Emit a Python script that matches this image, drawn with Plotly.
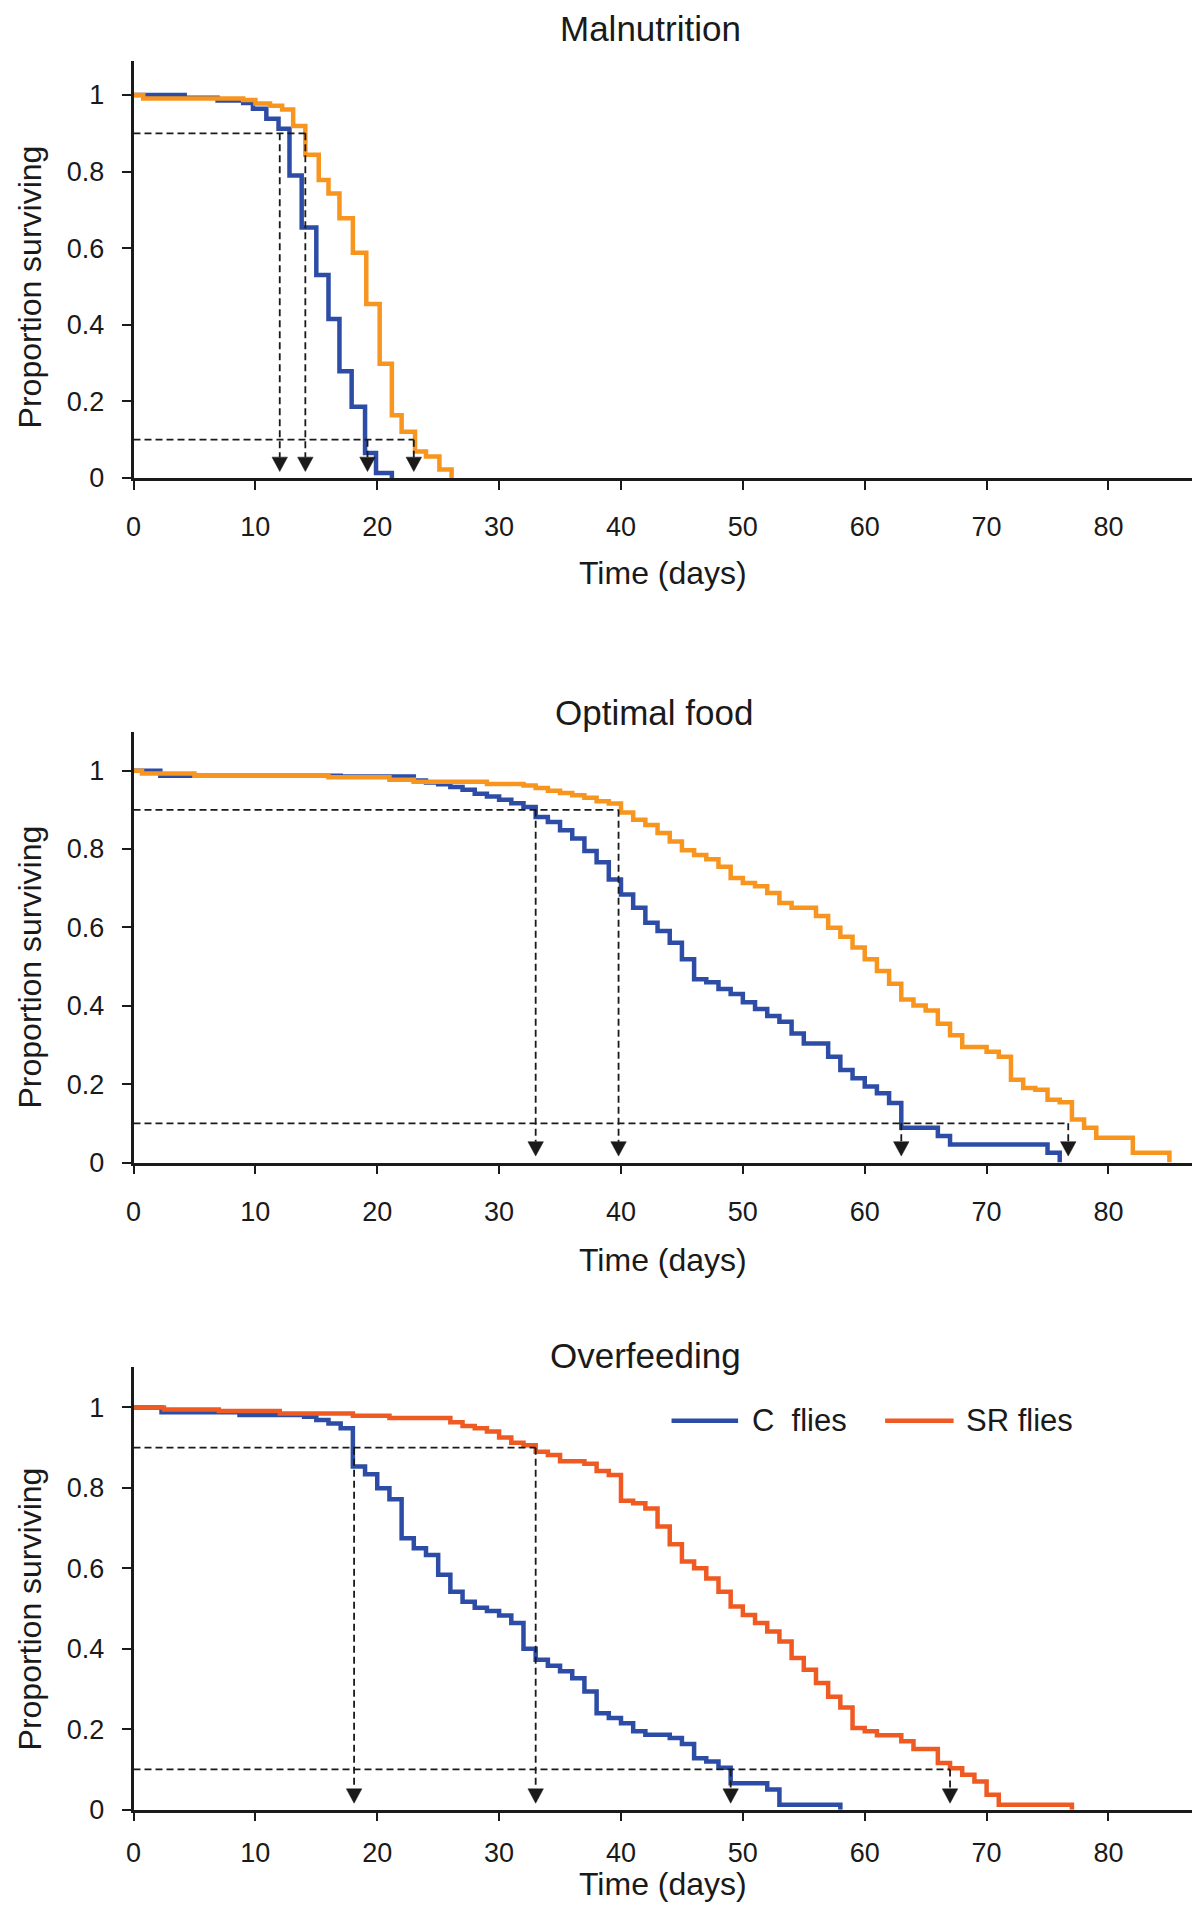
import plotly.graph_objects as go

# ---------------- data ----------------
mal_c_days = [0, 4.2, 6.9, 9, 9.8, 10.9, 11.9, 12.8, 13.8, 15, 16, 16.9, 17.9, 19, 19.9, 21.2]
mal_c_surv = [1.0, 0.993, 0.986, 0.979, 0.964, 0.938, 0.912, 0.79, 0.654, 0.53, 0.415, 0.279, 0.186, 0.065, 0.013, 0.0]
mal_sr_days = [0, 0.8, 9.0, 10.0, 11.2, 12.2, 13.1, 14.1, 15.2, 16.0, 16.9, 18.0, 19.1, 20.2, 21.2, 22.0, 23.1, 24.0, 25.1, 26.1]
mal_sr_surv = [1.0, 0.991, 0.987, 0.978, 0.972, 0.962, 0.919, 0.844, 0.778, 0.743, 0.678, 0.588, 0.454, 0.298, 0.164, 0.121, 0.069, 0.056, 0.022, 0.0]

opt_c_days = [0, 2.2, 17, 23, 24, 25, 26, 27, 28, 29, 30, 31, 32, 33, 34, 35, 36, 37, 38, 39, 40,
              41, 42, 43, 44, 45, 46, 47, 48, 49, 50, 51, 52, 53, 54, 55, 57, 58, 59, 60, 61, 62, 63,
              66, 67, 75, 76]
opt_c_surv = [1.0, 0.987, 0.985, 0.975, 0.97, 0.965, 0.958, 0.951, 0.941, 0.934, 0.926, 0.917, 0.907,
              0.882, 0.869, 0.848, 0.827, 0.795, 0.766, 0.722, 0.684, 0.65, 0.612, 0.591, 0.561, 0.519,
              0.468, 0.46, 0.443, 0.43, 0.409, 0.392, 0.374, 0.359, 0.329, 0.304, 0.27, 0.236, 0.215,
              0.194, 0.177, 0.152, 0.089, 0.068, 0.046, 0.025, 0.0]
opt_sr_days = [0, 0.7, 5, 16, 21, 23, 29, 32, 33, 34, 35, 36, 37, 38, 39, 40, 41, 42, 43, 44, 45, 46,
               47, 48, 49, 50, 51, 52, 53, 54, 56, 57, 58, 59, 60, 61, 62, 63, 64, 65, 66, 67, 68, 70,
               71, 72, 73, 74, 75, 76, 77, 78, 79, 82, 85]
opt_sr_surv = [1.0, 0.993, 0.987, 0.983, 0.977, 0.972, 0.966, 0.962, 0.956, 0.949, 0.943, 0.937, 0.931,
               0.922, 0.916, 0.893, 0.875, 0.861, 0.841, 0.819, 0.797, 0.785, 0.774, 0.755, 0.726, 0.713,
               0.705, 0.688, 0.662, 0.65, 0.629, 0.599, 0.576, 0.549, 0.519, 0.489, 0.456, 0.416, 0.401,
               0.388, 0.354, 0.325, 0.295, 0.283, 0.27, 0.211, 0.19, 0.186, 0.16, 0.154, 0.11, 0.089,
               0.063, 0.025, 0.0]

ovf_c_days = [0, 2.3, 8.7, 14, 15, 16, 17, 18, 19, 20, 21, 22, 23, 24, 25, 26, 27, 28, 29, 30, 31, 32,
              33, 34, 35, 36, 37, 38, 39, 40, 41, 42, 44, 45, 46, 47, 48, 49, 52, 53, 58]
ovf_c_surv = [1.0, 0.988, 0.981, 0.977, 0.969, 0.96, 0.948, 0.853, 0.834, 0.799, 0.772, 0.675, 0.65,
              0.633, 0.584, 0.542, 0.517, 0.502, 0.494, 0.483, 0.464, 0.4, 0.373, 0.358, 0.344, 0.327,
              0.294, 0.24, 0.228, 0.215, 0.195, 0.186, 0.178, 0.163, 0.128, 0.12, 0.104, 0.066, 0.05,
              0.012, 0.0]
ovf_sr_days = [0, 2.5, 7, 12, 18, 21, 26, 27, 28, 29, 30, 31, 32, 33, 34, 35, 37, 38, 39, 40, 41, 42,
               43, 44, 45, 46, 47, 48, 49, 50, 51, 52, 53, 54, 55, 56, 57, 58, 59, 60, 61, 63, 64, 66,
               67, 68, 69, 70, 71, 77]
ovf_sr_surv = [1.0, 0.995, 0.991, 0.985, 0.979, 0.974, 0.963, 0.954, 0.948, 0.94, 0.925, 0.912, 0.906,
               0.89, 0.882, 0.866, 0.86, 0.842, 0.832, 0.768, 0.762, 0.749, 0.704, 0.66, 0.617, 0.6,
               0.575, 0.542, 0.505, 0.484, 0.464, 0.443, 0.418, 0.377, 0.348, 0.315, 0.281, 0.254, 0.203,
               0.195, 0.185, 0.17, 0.151, 0.116, 0.103, 0.087, 0.07, 0.037, 0.012, 0.0]

# guide marks: day where each curve crosses the level, and the level
mal_guide_days = [12, 14.1, 19.2, 23]
opt_guide_days = [33, 39.8, 63, 76.7]
ovf_guide_days = [18.1, 33, 49, 67]
guide_levels = [0.9, 0.9, 0.1, 0.1]

panel_titles = ["Malnutrition", "Optimal food", "Overfeeding"]
series_names = ["C\u00a0\u00a0flies", "SR flies"]
x_ticks = [0, 10, 20, 30, 40, 50, 60, 70, 80]
y_ticks = [0, 0.2, 0.4, 0.6, 0.8, 1]
y_tick_text = ["0", "0.2", "0.4", "0.6", "0.8", "1"]
x_title = "Time (days)"
y_title = "Proportion surviving"

# ---------------- styling ----------------
PAGE_W, PAGE_H = 1200, 1919
BODY_MARGIN = 8  # default page margin around the plot div
W, H = PAGE_W - 2 * BODY_MARGIN, PAGE_H - 2 * BODY_MARGIN
FONT = "Liberation Sans, Arial, Helvetica, sans-serif"
INK = "#1a1a1a"
BLUE = "#2C4CA6"
ORANGE = "#F7951F"
REDOR = "#EF5A23"
CURVE_W = 4.5

def py(p):  # page pixel (from top) -> paper y
    return 1 - (p - BODY_MARGIN) / H

def px(p):
    return (p - BODY_MARGIN) / W

# per panel: (bottom pixel, top pixel, y-range top, x tick-label standoff), in page pixels
panels = [
    (481.7, 61.0, 1.09, 14),
    (1171.7, 738.0, 1.098, 14),
    (1824.0, 1378.0, 1.10, 8),
]
x_left, px_per_day, x_max = 126.3, 12.27, 86.85
x_right = x_left + px_per_day * x_max

fig = go.Figure()

datasets = [
    (mal_c_days, mal_c_surv, mal_sr_days, mal_sr_surv, ORANGE, mal_guide_days),
    (opt_c_days, opt_c_surv, opt_sr_days, opt_sr_surv, ORANGE, opt_guide_days),
    (ovf_c_days, ovf_c_surv, ovf_sr_days, ovf_sr_surv, REDOR, ovf_guide_days),
]

for i, (cd, cs, sd, ss, sr_col, gdays) in enumerate(datasets):
    xa = "x" if i == 0 else f"x{i+1}"
    ya = "y" if i == 0 else f"y{i+1}"
    fig.add_trace(go.Scatter(x=cd, y=cs, mode="lines", line=dict(color=BLUE, width=CURVE_W, shape="hv"),
                             xaxis=xa, yaxis=ya, showlegend=False, name=series_names[0]))
    fig.add_trace(go.Scatter(x=sd, y=ss, mode="lines", line=dict(color=sr_col, width=CURVE_W, shape="hv"),
                             xaxis=xa, yaxis=ya, showlegend=False, name=series_names[1]))
    # horizontal dashed guides
    for lev in sorted(set(guide_levels)):
        xend = max(d for d, l in zip(gdays, guide_levels) if l == lev)
        fig.add_trace(go.Scatter(x=[0, xend], y=[lev, lev], mode="lines",
                                 line=dict(color=INK, width=1.8, dash="7px,4px"),
                                 xaxis=xa, yaxis=ya, showlegend=False, hoverinfo="skip"))
    # vertical dashed drops with arrowheads
    ytop = panels[i][2]
    ppu = (panels[i][0] - panels[i][1]) / ytop  # pixels per unit of survival
    tip = 6.5 / ppu
    head_top = 21.0 / ppu
    hw = 7.8 / px_per_day
    for d, lev in zip(gdays, guide_levels):
        fig.add_trace(go.Scatter(x=[d, d], y=[lev, head_top], mode="lines",
                                 line=dict(color=INK, width=1.8, dash="7px,4px"),
                                 xaxis=xa, yaxis=ya, showlegend=False, hoverinfo="skip"))
    hx, hy = [], []
    for d in gdays:
        hx += [d - hw, d + hw, d, d - hw, None]
        hy += [head_top, head_top, tip, head_top, None]
    fig.add_trace(go.Scatter(x=hx, y=hy, mode="lines", fill="toself", fillcolor=INK,
                             line=dict(color=INK, width=0.5), xaxis=xa, yaxis=ya,
                             showlegend=False, hoverinfo="skip"))

axis_common = dict(showline=True, linecolor=INK, linewidth=2.5, ticks="outside", ticklen=9,
                   tickwidth=2, tickcolor=INK, showgrid=False, zeroline=False,
                   tickfont=dict(family=FONT, size=27, color=INK))

layout = dict(width=W, height=H, margin=dict(l=0, r=0, t=0, b=0), plot_bgcolor="white",
              paper_bgcolor="white", showlegend=False)
for i, (pb, pt, ytop, xstand) in enumerate(panels):
    xk = "xaxis" if i == 0 else f"xaxis{i+1}"
    yk = "yaxis" if i == 0 else f"yaxis{i+1}"
    ya = "y" if i == 0 else f"y{i+1}"
    xa = "x" if i == 0 else f"x{i+1}"
    layout[xk] = dict(axis_common, domain=[px(x_left), px(x_right)], range=[0, x_max], anchor=ya,
                      tickvals=x_ticks, ticklabelstandoff=xstand)
    layout[yk] = dict(axis_common, domain=[py(pb), py(pt)], range=[0, ytop], anchor=xa,
                      tickvals=y_ticks, ticktext=y_tick_text, ticklabelstandoff=12)
fig.update_layout(**layout)

# titles and axis titles
title_pos = [(647, 29), (650, 718), (642, 1366)]
xtitle_y = [577, 1270, 1899]
for i, (pb, pt, ytop, _) in enumerate(panels):
    tx, ty = title_pos[i]
    fig.add_annotation(x=px(tx), y=py(ty), xref="paper", yref="paper", text=panel_titles[i],
                       showarrow=False, font=dict(family=FONT, size=35, color=INK),
                       xanchor="center", yanchor="middle")
    fig.add_annotation(x=px(659), y=py(xtitle_y[i]), xref="paper", yref="paper", text=x_title,
                       showarrow=False, font=dict(family=FONT, size=32, color=INK),
                       xanchor="center", yanchor="middle")
    ppu = (pb - pt) / ytop
    ymid = pb - 0.5 * ppu
    fig.add_annotation(x=px(22), y=py(ymid), xref="paper", yref="paper", text=y_title,
                       showarrow=False, textangle=-90, font=dict(family=FONT, size=32, color=INK),
                       xanchor="center", yanchor="middle")

# legend (drawn in the Overfeeding panel)
leg_y = 1432
for (x0, x1, col, tx, name) in [(668, 735, BLUE, 747, series_names[0]),
                                (883, 952, REDOR, 962, series_names[1])]:
    fig.add_shape(type="line", xref="paper", yref="paper", x0=px(x0), x1=px(x1), y0=py(leg_y),
                  y1=py(leg_y), line=dict(color=col, width=4.5))
    fig.add_annotation(x=px(tx), y=py(leg_y), xref="paper", yref="paper", text=name,
                       showarrow=False, font=dict(family=FONT, size=31, color=INK),
                       xanchor="left", yanchor="middle")

fig.write_html("out.html", config={"displayModeBar": False})
